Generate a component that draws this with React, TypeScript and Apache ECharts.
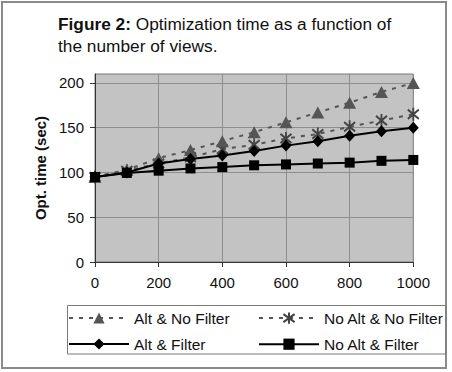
import React, { useEffect, useRef } from "react";
import * as echarts from "echarts";

const views = [0, 100, 200, 300, 400, 500, 600, 700, 800, 900, 1000];
const altNoFilter = [95, 103, 116, 125, 135, 145, 156, 167, 178, 190, 200];
const noAltNoFilter = [95, 102, 110, 117, 126, 131, 138, 143, 151, 158, 165];
const altFilter = [95, 100, 110, 115, 119, 124, 130, 135, 141, 146, 150];
const noAltFilter = [95, 99.5, 102, 104.5, 106, 108, 109, 110, 111, 113, 114];
const yTicks = [0, 50, 100, 150, 200];
const seriesNames = ["Alt & No Filter", "No Alt & No Filter", "Alt & Filter", "No Alt & Filter"];

const FONT = "'Liberation Sans', Arial, Helvetica, sans-serif";
const pairs = (ys: number[]) => views.map((x, i) => [x, ys[i]]);
const ASTERISK = "path://M-5,-5L5,5M-5,5L5,-5M0,-7L0,7";

export default function App() {
  const ref = useRef<HTMLDivElement>(null);
  useEffect(() => {
    if (!ref.current) return;
    const chart = echarts.init(ref.current, null, { renderer: "svg" });
    const legendCommon = {
      orient: "vertical",
      top: 310,
      padding: 0,
      itemWidth: 60,
      itemHeight: 14,
      itemGap: 10,
      textStyle: { fontSize: 15.5, color: "#111", fontFamily: FONT },
    };
    chart.setOption({
      animation: false,
      backgroundColor: "#ffffff",
      textStyle: { fontFamily: FONT },
      grid: {
        left: 95,
        right: 38.7,
        top: 74,
        bottom: 110,
        show: true,
        backgroundColor: "#c3c3c3",
        borderColor: "#7a7a7a",
        borderWidth: 1,
      },
      xAxis: {
        type: "value",
        min: 0,
        max: 1000,
        interval: 200,
        axisLine: { lineStyle: { color: "#333", width: 1 } },
        axisTick: { show: true, length: 5, lineStyle: { color: "#333" } },
        axisLabel: {
          color: "#111",
          fontSize: 15,
          fontFamily: FONT,
          margin: 13,
          formatter: (v: number) => String(v),
        },
        splitLine: { show: true, lineStyle: { color: "#8e8e8e", width: 1 } },
      },
      yAxis: {
        type: "value",
        min: 0,
        max: 210,
        interval: 50,
        name: "Opt. time (sec)",
        nameLocation: "middle",
        nameGap: 44,
        nameTextStyle: { fontSize: 15, fontWeight: "bold", color: "#111", fontFamily: FONT },
        axisLine: { show: true, lineStyle: { color: "#333", width: 1 } },
        axisTick: { show: true, length: 5, lineStyle: { color: "#333" }, customValues: yTicks },
        axisLabel: {
          color: "#111",
          fontSize: 15,
          fontFamily: FONT,
          margin: 11,
          customValues: yTicks,
          formatter: (v: number) => String(v),
        },
        splitLine: { show: true, lineStyle: { color: "#8e8e8e", width: 1 } },
      },
      legend: [
        { ...legendCommon, left: 68, data: [seriesNames[0], seriesNames[2]] },
        { ...legendCommon, left: 258, data: [seriesNames[1], seriesNames[3]] },
      ],
      series: [
        {
          name: seriesNames[1],
          type: "line",
          data: pairs(noAltNoFilter),
          symbol: ASTERISK,
          symbolSize: [11, 13],
          lineStyle: { color: "#555", width: 2, type: [4, 6] },
          itemStyle: { color: "none", borderColor: "#444", borderWidth: 2 },
          z: 2,
        },
        {
          name: seriesNames[0],
          type: "line",
          data: pairs(altNoFilter),
          symbol: "triangle",
          symbolSize: [13, 12],
          lineStyle: { color: "#555", width: 2, type: [4, 6] },
          itemStyle: { color: "#555" },
          z: 3,
        },
        {
          name: seriesNames[2],
          type: "line",
          data: pairs(altFilter),
          symbol: "diamond",
          symbolSize: [11, 12],
          lineStyle: { color: "#000", width: 2 },
          itemStyle: { color: "#000" },
          z: 4,
        },
        {
          name: seriesNames[3],
          type: "line",
          data: pairs(noAltFilter),
          symbol: "rect",
          symbolSize: 10,
          lineStyle: { color: "#000", width: 2 },
          itemStyle: { color: "#000" },
          z: 5,
        },
      ],
      graphic: [
        {
          type: "rect",
          shape: { x: 2, y: 2, width: 444, height: 366 },
          style: { fill: "none", stroke: "#8a8a8a", lineWidth: 2 },
          silent: true,
          z: -1,
        },
        {
          type: "rect",
          shape: { x: 67.5, y: 305.5, width: 378.5, height: 48.5 },
          style: { fill: "none", stroke: "#7a7a7a", lineWidth: 1 },
          silent: true,
        },
        {
          type: "text",
          left: 58,
          top: 13,
          style: {
            text: "{b|Figure 2:} Optimization time as a function of\nthe number of views.",
            font: `17.3px ${FONT}`,
            fill: "#111",
            lineHeight: 22,
            rich: {
              b: { fontWeight: "bold", fontSize: 17.3, fontFamily: FONT, fill: "#111", lineHeight: 22 },
            },
          },
        },
      ],
    });
    return () => chart.dispose();
  }, []);
  return (
    <div
      ref={ref}
      style={{ position: "fixed", left: 0, top: 0, width: 452, height: 372 }}
    />
  );
}
